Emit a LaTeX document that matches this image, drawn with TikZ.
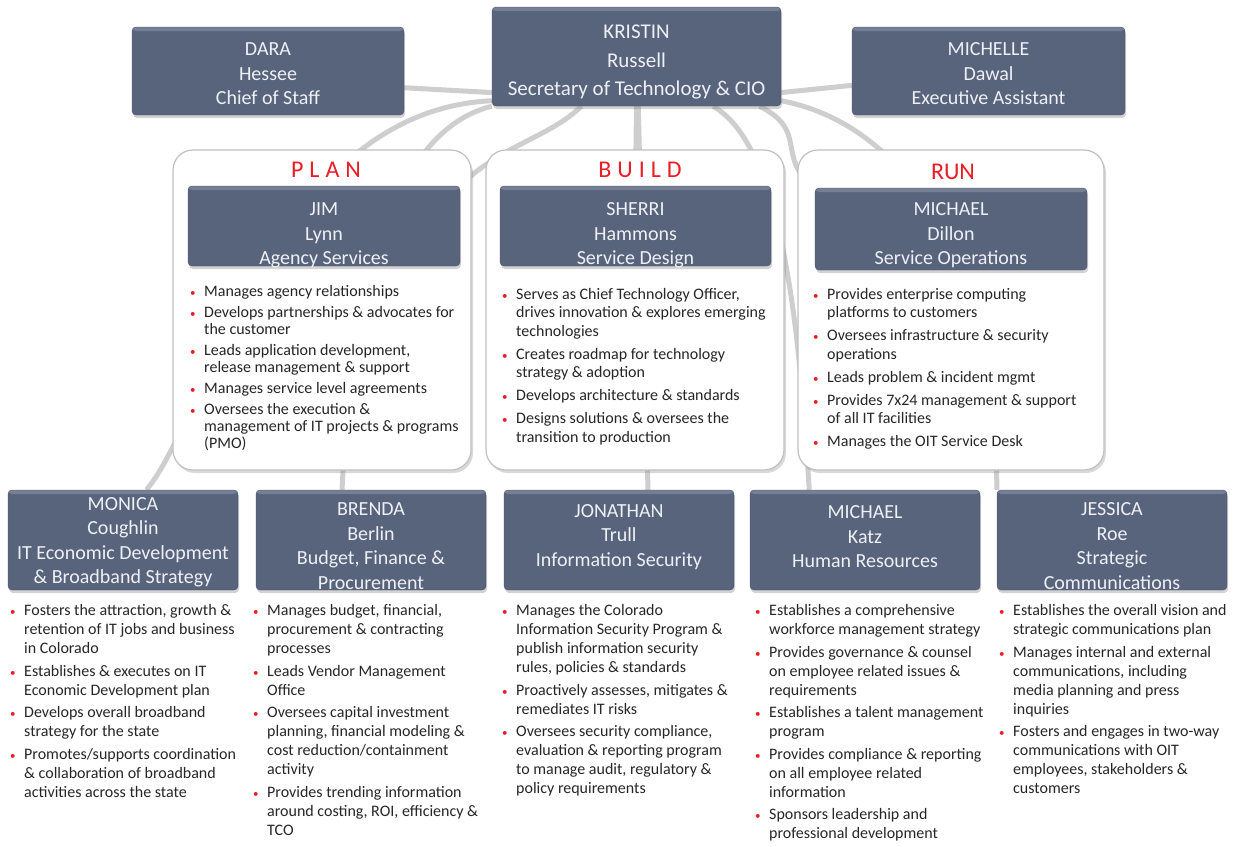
\documentclass[tikz,border=0pt]{standalone}
\usepackage{fontspec}
\setmainfont{Carlito}
\usetikzlibrary{fit,shadows,backgrounds}

\definecolor{boxblue}{RGB}{88,99,124}
\definecolor{boxtext}{RGB}{238,240,245}
\definecolor{linkgray}{RGB}{206,206,206}
\definecolor{headred}{RGB}{236,28,36}
\definecolor{panelline}{RGB}{192,192,192}

% red bullet in a fixed-width cell
\newcommand{\bl}{\makebox[14pt][l]{\textcolor{headred}{\fontsize{11}{11}\selectfont\textbullet}}}

\begin{document}
\begin{tikzpicture}[x=1pt, y=-1pt,
  person/.style={fill=boxblue, draw=boxblue!85!black, rounded corners=4pt, inner sep=0pt,
    drop shadow={shadow xshift=1pt, shadow yshift=-3pt, opacity=.35},
    path picture={\fill[white, opacity=.18] (path picture bounding box.north west)
      rectangle ([yshift=-4pt]path picture bounding box.north east);}},
  who/.style={text=boxtext, align=center, inner sep=0pt, font=\fontsize{20}{24.5}\selectfont},
  panel/.style={fill=white, draw=panelline, line width=1.2pt, rounded corners=20pt,
    inner sep=0pt, drop shadow={shadow xshift=2pt, shadow yshift=-3pt, opacity=.3}},
  phase/.style={text=headred, font=\fontsize{24}{28}\selectfont\addfontfeatures{LetterSpace=25}},
  duties/.style={anchor=north west, inner sep=0pt, text=black!85,
    font=\fontsize{16}{18.5}\selectfont},
  link/.style={linkgray, line width=5pt}]

\useasboundingbox (0,0) rectangle (1233,846);

% top row
\node[person, fit={(492,7) (781,106)}] (kristin) {};
\node[who, font=\fontsize{21}{28.5}\selectfont] (kristinname) at ([yshift=-5.5pt]kristin.center)
  {KRISTIN\\Russell\\Secretary of Technology \& CIO};
\node[person, fit={(132,27) (404,115)}] (dara) {};
\node[who] (daraname) at ([yshift=-3pt]dara.center) {DARA\\Hessee\\Chief of Staff};
\node[person, fit={(852,27) (1125,115)}] (michelle) {};
\node[who] (michellename) at ([yshift=-3pt]michelle.center) {MICHELLE\\Dawal\\Executive Assistant};

% plan / build / run
\node[panel, fit={(173,150) (471,470)}] (planpanel) {};
\node[panel, fit={(486,150) (784,470)}] (buildpanel) {};
\node[panel, fit={(798,150) (1104,470)}] (runpanel) {};

\node[phase] (planhead) at (326,170) {PLAN};
\node[phase] (buildhead) at (640,170) {BUILD};
\node[phase, font=\fontsize{24}{28}\selectfont] (runhead) at (953,172) {RUN};

\node[person, fit={(188,186) (460,266)}] (jim) {};
\node[who] (jimname) at ([yshift=-9.5pt]jim.center) {JIM\\Lynn\\Agency Services};
\node[person, fit={(500,186) (771,266)}] (sherri) {};
\node[who] (sherriname) at ([yshift=-9.5pt]sherri.center) {SHERRI\\Hammons\\Service Design};
\node[person, fit={(815,188) (1087,270)}] (dillon) {};
\node[who] (dillonname) at ([yshift=-6.5pt]dillon.center) {MICHAEL\\Dillon\\Service Operations};

\node[duties, font=\fontsize{16}{17}\selectfont] (planlist) at (190,284) {%
\begin{tabular}{@{}l@{}l@{}}
\bl & Manages agency relationships\\[4pt]
\bl & Develops partnerships \& advocates for\\
    & the customer\\[4pt]
\bl & Leads application development,\\
    & release management \& support\\[4pt]
\bl & Manages service level agreements\\[4pt]
\bl & Oversees the execution \&\\
    & management of IT projects \& programs\\
    & (PMO)
\end{tabular}};

\node[duties] (buildlist) at (502,286) {%
\begin{tabular}{@{}l@{}l@{}}
\bl & Serves as Chief Technology Officer,\\
    & drives innovation \& explores emerging\\
    & technologies\\[4.5pt]
\bl & Creates roadmap for technology\\
    & strategy \& adoption\\[4.5pt]
\bl & Develops architecture \& standards\\[4.5pt]
\bl & Designs solutions \& oversees the\\
    & transition to production
\end{tabular}};

\node[duties] (runlist) at (813,286) {%
\begin{tabular}{@{}l@{}l@{}}
\bl & Provides enterprise computing\\
    & platforms to customers\\[4.5pt]
\bl & Oversees infrastructure \& security\\
    & operations\\[4.5pt]
\bl & Leads problem \& incident mgmt\\[4.5pt]
\bl & Provides 7x24 management \& support\\
    & of all IT facilities\\[4.5pt]
\bl & Manages the OIT Service Desk
\end{tabular}};

% bottom row
\node[person, fit={(8,490) (238,590)}] (monica) {};
\node[who] (monicaname) at ([yshift=-2pt]monica.center)
  {MONICA\\Coughlin\\IT Economic Development\\\& Broadband Strategy};
\node[person, fit={(256,490) (486,590)}] (brenda) {};
\node[who] (brendaname) at ([yshift=-6pt]brenda.center)
  {BRENDA\\Berlin\\Budget, Finance \&\\Procurement};
\node[person, fit={(504,490) (734,590)}] (jonathan) {};
\node[who] (jonathanname) at ([yshift=3pt]jonathan.center)
  {JONATHAN\\Trull\\Information Security};
\node[person, fit={(750,490) (980,590)}] (katz) {};
\node[who] (katzname) at ([yshift=3pt]katz.center)
  {MICHAEL\\Katz\\Human Resources};
\node[person, fit={(997,490) (1227,590)}] (jessica) {};
\node[who] (jessicaname) at ([yshift=-6pt]jessica.center)
  {JESSICA\\Roe\\Strategic\\Communications};

\begin{scope}[duties/.append style={font=\fontsize{16}{19}\selectfont}]
\node[duties] (monicalist) at (10,602) {%
\begin{tabular}{@{}l@{}l@{}}
\bl & Fosters the attraction, growth \&\\
    & retention of IT jobs and business\\
    & in Colorado\\[3.5pt]
\bl & Establishes \& executes on IT\\
    & Economic Development plan\\[3.5pt]
\bl & Develops overall broadband\\
    & strategy for the state\\[3.5pt]
\bl & Promotes/supports coordination\\
    & \& collaboration of broadband\\
    & activities across the state
\end{tabular}};

\node[duties] (brendalist) at (253,602) {%
\begin{tabular}{@{}l@{}l@{}}
\bl & Manages budget, financial,\\
    & procurement \& contracting\\
    & processes\\[3.5pt]
\bl & Leads Vendor Management\\
    & Office\\[3.5pt]
\bl & Oversees capital investment\\
    & planning, financial modeling \&\\
    & cost reduction/containment\\
    & activity\\[3.5pt]
\bl & Provides trending information\\
    & around costing, ROI, efficiency \&\\
    & TCO
\end{tabular}};

\node[duties] (jonathanlist) at (502,602) {%
\begin{tabular}{@{}l@{}l@{}}
\bl & Manages the Colorado\\
    & Information Security Program \&\\
    & publish information security\\
    & rules, policies \& standards\\[3.5pt]
\bl & Proactively assesses, mitigates \&\\
    & remediates IT risks\\[3.5pt]
\bl & Oversees security compliance,\\
    & evaluation \& reporting program\\
    & to manage audit, regulatory \&\\
    & policy requirements
\end{tabular}};

\node[duties] (katzlist) at (755,602) {%
\begin{tabular}{@{}l@{}l@{}}
\bl & Establishes a comprehensive\\
    & workforce management strategy\\[3.5pt]
\bl & Provides governance \& counsel\\
    & on employee related issues \&\\
    & requirements\\[3.5pt]
\bl & Establishes a talent management\\
    & program\\[3.5pt]
\bl & Provides compliance \& reporting\\
    & on all employee related\\
    & information\\[3.5pt]
\bl & Sponsors leadership and\\
    & professional development
\end{tabular}};

\node[duties] (jessicalist) at (999,602) {%
\begin{tabular}{@{}l@{}l@{}}
\bl & Establishes the overall vision and\\
    & strategic communications plan\\[3.5pt]
\bl & Manages internal and external\\
    & communications, including\\
    & media planning and press\\
    & inquiries\\[3.5pt]
\bl & Fosters and engages in two-way\\
    & communications with OIT\\
    & employees, stakeholders \&\\
    & customers
\end{tabular}};
\end{scope}

% reporting lines, behind everything
\begin{scope}[on background layer]
\draw[link] (dara.-7) -- (kristin.194);
\draw[link] (kristin.-14) -- (michelle.186);
\draw[link] (kristin.197) .. controls +(-220,10) and +(60,-70) .. (monica.65);
\draw[link] (kristin.south west) .. controls +(-100,25) and +(10,-200) .. (brenda.120);
\draw[link] (kristin.222) .. controls +(-30,30) and +(40,-40) .. (jim.north east);
\draw[link] (kristin.south) -- (sherri.north);
\draw[link] (kristin.-88) -- (jonathan.60);
\draw[link] (kristin.-33) .. controls +(70,40) and +(-10,-160) .. (katz.138);
\draw[link] (kristin.-22) .. controls +(50,25) and +(-40,-30) .. (dillon.north west);
\draw[link] (kristin.-17) .. controls +(130,25) and +(0,-220) .. (jessica.north west);
\end{scope}
\end{tikzpicture}
\end{document}
